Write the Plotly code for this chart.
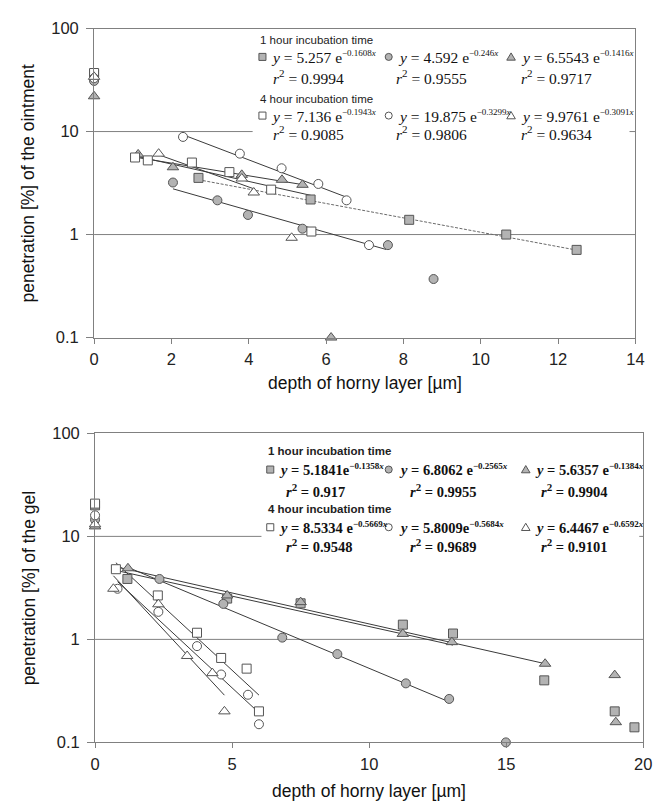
import numpy as np
import plotly.graph_objects as go

W, H = 662, 812

# ---------------- ointment (top) data ----------------
oint_1h_sq_x = [0, 2.7, 5.6, 8.15, 10.66, 12.48]
oint_1h_sq_y = [36, 3.55, 2.19, 1.39, 1.0, 0.71]
oint_1h_ci_x = [0, 2.04, 3.19, 3.98, 5.39, 7.6, 8.78]
oint_1h_ci_y = [31, 3.2, 2.15, 1.55, 1.14, 0.79, 0.37]
oint_1h_tr_x = [0, 1.14, 2.04, 3.82, 4.86, 5.39, 6.13]
oint_1h_tr_y = [22, 6.0, 4.5, 3.8, 3.4, 3.04, 0.1]
oint_4h_sq_x = [0, 1.06, 1.39, 2.53, 3.5, 4.58, 5.62]
oint_4h_sq_y = [37, 5.6, 5.25, 5.0, 4.04, 2.73, 1.07]
oint_4h_ci_x = [0, 2.3, 3.77, 4.85, 5.8, 6.53, 7.11]
oint_4h_ci_y = [33, 8.87, 6.1, 4.4, 3.1, 2.15, 0.79]
oint_4h_tr_x = [0, 1.67, 3.82, 4.13, 5.11]
oint_4h_tr_y = [34, 6.1, 3.5, 2.56, 0.93]

oint_fit_a = [5.257, 4.592, 6.5543, 7.136, 19.875, 9.9761]
oint_fit_k = [0.1608, 0.246, 0.1416, 0.1943, 0.3299, 0.3091]
oint_fit_a_txt = ["5.257", "4.592", "6.5543", "7.136", "19.875", "9.9761"]
oint_fit_k_txt = ["0.1608", "0.246", "0.1416", "0.1943", "0.3299", "0.3091"]
oint_fit_r2 = ["0.9994", "0.9555", "0.9717", "0.9085", "0.9806", "0.9634"]
oint_fit_x0 = [2.7, 2.04, 1.14, 1.06, 2.3, 1.67]
oint_fit_x1 = [12.48, 7.55, 5.39, 5.62, 6.53, 4.13]

# ---------------- gel (bottom) data ----------------
gel_1h_sq_x = [0, 1.18, 4.82, 7.5, 11.23, 13.06, 16.39, 18.96, 19.68]
gel_1h_sq_y = [20, 3.86, 2.49, 2.24, 1.39, 1.14, 0.40, 0.20, 0.14]
gel_1h_ci_x = [0, 2.35, 4.68, 6.83, 8.84, 11.34, 12.92, 14.99]
gel_1h_ci_y = [14.5, 3.86, 2.21, 1.04, 0.72, 0.374, 0.264, 0.10]
gel_1h_tr_x = [0, 1.2, 4.82, 7.5, 11.23, 13.02, 16.42, 18.96, 19.0]
gel_1h_tr_y = [12.5, 4.9, 2.67, 2.3, 1.13, 0.94, 0.58, 0.45, 0.157]
gel_4h_sq_x = [0, 0.76, 2.29, 3.72, 4.6, 5.53, 5.98]
gel_4h_sq_y = [20.8, 4.8, 2.67, 1.16, 0.66, 0.52, 0.2]
gel_4h_ci_x = [0, 0.82, 2.31, 3.72, 4.6, 5.58, 5.98]
gel_4h_ci_y = [16, 3.1, 1.85, 0.86, 0.456, 0.29, 0.15]
gel_4h_tr_x = [0, 0.67, 2.31, 3.36, 4.28, 4.72]
gel_4h_tr_y = [13.1, 3.1, 2.19, 0.69, 0.47, 0.2]

gel_fit_a = [5.1841, 6.8062, 5.6357, 8.5334, 5.8009, 6.4467]
gel_fit_k = [0.1358, 0.2565, 0.1384, 0.5669, 0.5684, 0.6592]
gel_fit_a_txt = ["5.1841", "6.8062", "5.6357", "8.5334", "5.8009", "6.4467"]
gel_fit_k_txt = ["0.1358", "0.2565", "0.1384", "0.5669", "0.5684", "0.6592"]
gel_fit_r2 = ["0.917", "0.9955", "0.9904", "0.9548", "0.9689", "0.9101"]
gel_fit_x0 = [0.8, 1.18, 0.8, 0.76, 0.82, 0.67]
gel_fit_x1 = [13.06, 12.92, 16.42, 5.98, 5.98, 4.72]

y_tickvals = [0.1, 1, 10, 100]
y_ticktext = ["0.1", "1", "10", "100"]
oint_xticks = [0, 2, 4, 6, 8, 10, 12, 14]
gel_xticks = [0, 5, 10, 15, 20]

# ---------------- styling ----------------
AX = "#808080"
GRAY_FILL = "#b3b3b3"
EDGE = "#555555"
LINE = "#3a3a3a"
SANS = "Liberation Sans, Arial, sans-serif"
SERIF = "Liberation Serif, Times New Roman, serif"

symbols = ["square", "circle", "triangle-up", "square", "circle", "triangle-up"]
sizes = [9, 9, 10, 9, 9, 10]
fills = [GRAY_FILL] * 3 + ["white"] * 3


def fx(px):
    return px / W


def fy(py):
    return 1 - py / H


fig = go.Figure()

panels = [
    dict(xa="x", ya="y",
         series=[(oint_1h_sq_x, oint_1h_sq_y), (oint_1h_ci_x, oint_1h_ci_y), (oint_1h_tr_x, oint_1h_tr_y),
                 (oint_4h_sq_x, oint_4h_sq_y), (oint_4h_ci_x, oint_4h_ci_y), (oint_4h_tr_x, oint_4h_tr_y)],
         a=oint_fit_a, k=oint_fit_k, x0=oint_fit_x0, x1=oint_fit_x1,
         dashes=["3px,1.5px", "solid", "solid", "solid", "solid", "solid"],
         lcolors=["#6a6a6a", LINE, LINE, LINE, LINE, LINE]),
    dict(xa="x2", ya="y2",
         series=[(gel_1h_sq_x, gel_1h_sq_y), (gel_1h_ci_x, gel_1h_ci_y), (gel_1h_tr_x, gel_1h_tr_y),
                 (gel_4h_sq_x, gel_4h_sq_y), (gel_4h_ci_x, gel_4h_ci_y), (gel_4h_tr_x, gel_4h_tr_y)],
         a=gel_fit_a, k=gel_fit_k, x0=gel_fit_x0, x1=gel_fit_x1,
         dashes=["solid"] * 6,
         lcolors=[LINE] * 6),
]

for p in panels:
    # trend lines (exponential fits, straight on a log axis)
    for i in range(6):
        xs = np.array([p["x0"][i], p["x1"][i]])
        ys = p["a"][i] * np.exp(-p["k"][i] * xs)
        fig.add_trace(go.Scatter(x=xs, y=ys, mode="lines", xaxis=p["xa"], yaxis=p["ya"],
                                 line=dict(color=p["lcolors"][i], width=1, dash=p["dashes"][i]),
                                 showlegend=False, hoverinfo="skip"))
    for i, (sx, sy) in enumerate(p["series"]):
        fig.add_trace(go.Scatter(x=sx, y=sy, mode="markers", xaxis=p["xa"], yaxis=p["ya"],
                                 cliponaxis=False, showlegend=False,
                                 marker=dict(symbol=symbols[i], size=sizes[i], color=fills[i],
                                             line=dict(color=EDGE, width=1))))

# plot areas (pixels)
top = dict(l=91, r=644, t=20, b=336)
bot = dict(l=92, r=652, t=434, b=750)


def xaxis_cfg(box, rng, ticks):
    return dict(domain=[fx(box["l"]), fx(box["r"])], range=rng, tickvals=ticks,
                ticks="outside", ticklen=5, tickcolor=AX, tickwidth=1,
                showline=True, linecolor=AX, linewidth=1, mirror=True,
                showgrid=False, zeroline=False,
                tickfont=dict(family=SANS, size=16.5, color="#222"), ticklabelstandoff=2)


def yaxis_cfg(box, anchor):
    return dict(domain=[fy(box["b"]), fy(box["t"])], type="log", range=[-1, 2],
                tickvals=y_tickvals, ticktext=y_ticktext, anchor=anchor,
                ticks="outside", ticklen=7, tickcolor=AX, tickwidth=1,
                showline=True, linecolor=AX, linewidth=1, mirror=True,
                showgrid=False, zeroline=False,
                tickfont=dict(family=SANS, size=16.5, color="#222"), ticklabelstandoff=4)


xa1 = xaxis_cfg(top, [0, 14], oint_xticks)
xa1["anchor"] = "y"
xa2 = xaxis_cfg(bot, [0, 20], gel_xticks)
xa2["anchor"] = "y2"

shapes = []
# horizontal grid lines (at 1 full width, at 10 interrupted by the equation box)
for xr, yr, box, leg_l, leg_r in [("x", "y", top, 253, 638), ("x2", "y2", bot, 262, 648)]:
    wpx = box["r"] - box["l"]
    shapes.append(dict(type="line", xref=xr + " domain", yref=yr + " domain", x0=0, x1=1,
                       y0=1 / 3, y1=1 / 3, line=dict(color=AX, width=1), layer="below"))
    shapes.append(dict(type="line", xref=xr + " domain", yref=yr + " domain", x0=0,
                       x1=(leg_l - box["l"]) / wpx, y0=2 / 3, y1=2 / 3,
                       line=dict(color=AX, width=1), layer="below"))
    shapes.append(dict(type="line", xref=xr + " domain", yref=yr + " domain",
                       x0=(leg_r - box["l"]) / wpx, x1=1, y0=2 / 3, y1=2 / 3,
                       line=dict(color=AX, width=1), layer="below"))

annotations = []


def legend_marker(kind, cx, cy, filled, s=3.6):
    fill = GRAY_FILL if filled else "white"
    ln = dict(color=EDGE, width=1)
    if kind == "square":
        shapes.append(dict(type="rect", xref="paper", yref="paper",
                           x0=fx(cx - s), x1=fx(cx + s), y0=fy(cy + s), y1=fy(cy - s),
                           fillcolor=fill, line=ln, layer="above"))
    elif kind == "circle":
        shapes.append(dict(type="circle", xref="paper", yref="paper",
                           x0=fx(cx - s), x1=fx(cx + s), y0=fy(cy + s), y1=fy(cy - s),
                           fillcolor=fill, line=ln, layer="above"))
    else:
        path = "M {:.5f},{:.5f} L {:.5f},{:.5f} L {:.5f},{:.5f} Z".format(
            fx(cx), fy(cy - s - 0.5), fx(cx + s + 0.8), fy(cy + s - 0.3), fx(cx - s - 0.8), fy(cy + s - 0.3))
        shapes.append(dict(type="path", xref="paper", yref="paper", path=path,
                           fillcolor=fill, line=ln, layer="above"))


def text(x, y, s, family, size, bold=False, color="#111"):
    if bold:
        s = "<b>" + s + "</b>"
    annotations.append(dict(x=fx(x), y=fy(y), xref="paper", yref="paper", text=s,
                            showarrow=False, xanchor="left", yanchor="middle",
                            font=dict(family=family, size=size, color=color)))


def legend_block(hx, rows, mx, ex, rx, a_txt, k_txt, r2, bold, esep, fsize, supsize):
    kinds = ["square", "circle", "triangle"]
    for g in range(2):
        hy, eqy, ry = rows[3 * g], rows[3 * g + 1], rows[3 * g + 2]
        text(hx, hy, ["1 hour incubation time", "4 hour incubation time"][g], SANS, 11.5,
             bold=bold, color="#222")
        for c in range(3):
            i = 3 * g + c
            legend_marker(kinds[c], mx[c], eqy, filled=(g == 0))
            eq = ("<i>y</i> = {}{}e<sup><span style='font-size:{}px'>\u2212{}<i>x</i></span></sup>"
                  .format(a_txt[i], esep[i], supsize, k_txt[i]))
            text(ex[c], eqy, eq, SERIF, fsize, bold=bold)
            text(rx[c], ry, "<i>r</i><sup><span style='font-size:{}px'>2</span></sup> = {}"
                 .format(supsize + 2, r2[i]), SERIF, fsize, bold=bold)


legend_block(258, [32, 49, 70, 92, 109, 127], [263, 392, 517], [270, 399, 525], [272, 397, 525],
             oint_fit_a_txt, oint_fit_k_txt, oint_fit_r2, False, [" "] * 6, 15.5, 9)
legend_block(267, [452, 471, 492, 511, 530, 549], [271, 392, 532], [278, 400, 539], [285, 412, 546],
             gel_fit_a_txt, gel_fit_k_txt, gel_fit_r2, True, ["", " ", " ", " ", "", " "], 14.5, 9)

# axis titles
for box, ytitle, xty in [(top, "penetration [%] of the ointment", 382),
                         (bot, "penetration [%] of the gel", 800)]:
    annotations.append(dict(x=fx(24), y=fy((box["t"] + box["b"]) / 2), xref="paper", yref="paper",
                            text=ytitle, textangle=-90, showarrow=False,
                            xanchor="center", yanchor="middle",
                            font=dict(family=SANS, size=17.5, color="#111")))
    annotations.append(dict(x=fx((box["l"] + box["r"]) / 2), y=fy(xty), xref="paper", yref="paper",
                            text="depth of horny layer [\u00b5m]", showarrow=False,
                            xanchor="center", yanchor="middle",
                            font=dict(family=SANS, size=17.5, color="#111")))

fig.update_layout(
    width=W, height=H, margin=dict(l=0, r=0, t=0, b=0),
    paper_bgcolor="white", plot_bgcolor="white",
    xaxis=xa1, yaxis=yaxis_cfg(top, "x"),
    xaxis2=xa2, yaxis2=yaxis_cfg(bot, "x2"),
    shapes=shapes, annotations=annotations, showlegend=False,
)

fig.write_html("out.html", config={"displayModeBar": False},
               post_script="document.body.style.margin='0px';document.body.style.overflow='hidden';")
